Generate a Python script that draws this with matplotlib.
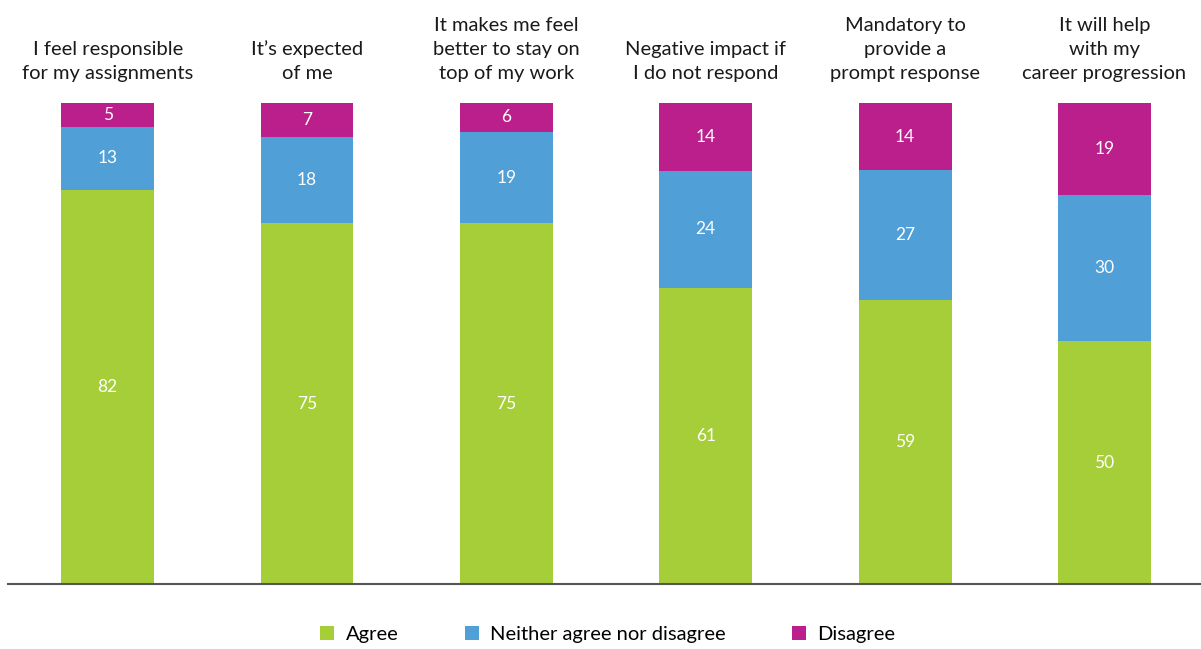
import numpy as np
import matplotlib
import matplotlib.pyplot as plt
from matplotlib.patches import Patch

matplotlib.rcParams['font.family'] = ['Lato', 'DejaVu Sans']

# data
categories = ['I feel responsible\nfor my assignments',
              'It\u2019s expected\nof me',
              'It makes me feel\nbetter to stay on\ntop of my work',
              'Negative impact if\nI do not respond',
              'Mandatory to\nprovide a\nprompt response',
              'It will help\nwith my\ncareer progression']
agree = [82, 75, 75, 61, 59, 50]
neither = [13, 18, 19, 24, 27, 30]
disagree = [5, 7, 6, 14, 14, 19]

series_names = ['Agree', 'Neither agree nor disagree', 'Disagree']
colors = ['#A6CE39', '#519FD7', '#BA1F8C']

fig = plt.figure(figsize=(12.01, 6.49), dpi=100)
ax = fig.add_axes([8 / 1201, 1 - 584 / 649, 1 - 8 / 1201, (584 - 103) / 649])

x = np.arange(len(categories))
data = np.array([agree, neither, disagree], dtype=float)
totals = data.sum(axis=0)
shares = data / totals * 100  # bars are drawn to full height

bottom = np.zeros(len(categories))
for vals, shr, col in zip(data, shares, colors):
    ax.bar(x, shr, bottom=bottom, width=0.466, color=col, edgecolor='none')
    for xi, b, s, v in zip(x, bottom, shr, vals):
        ax.text(xi, b + s / 2, '%d' % v, ha='center', va='center',
                color='white', fontsize=12.5)
    bottom += shr

for xi, lab in zip(x, categories):
    ax.annotate(lab, xy=(xi, 100), xytext=(0, 15), textcoords='offset points',
                ha='center', va='bottom', fontsize=14.5, linespacing=1.5,
                color='#1a1a1a', annotation_clip=False)

ax.set_xlim(-0.5, 5.484)
ax.set_ylim(0, 100)
ax.set_xticks([])
ax.set_yticks([])
for s in ['top', 'left', 'right']:
    ax.spines[s].set_visible(False)
ax.spines['bottom'].set_color('#555555')
ax.spines['bottom'].set_linewidth(1.5)

handles = [Patch(facecolor=c, edgecolor='none') for c in colors]
fig.legend(handles, series_names, loc='center', bbox_to_anchor=(0.506, 0.023),
           ncol=3, frameon=False, fontsize=14.5, handlelength=0.7,
           handleheight=0.7, handletextpad=0.55, columnspacing=3.3)

fig.savefig('out.png', dpi=100)
